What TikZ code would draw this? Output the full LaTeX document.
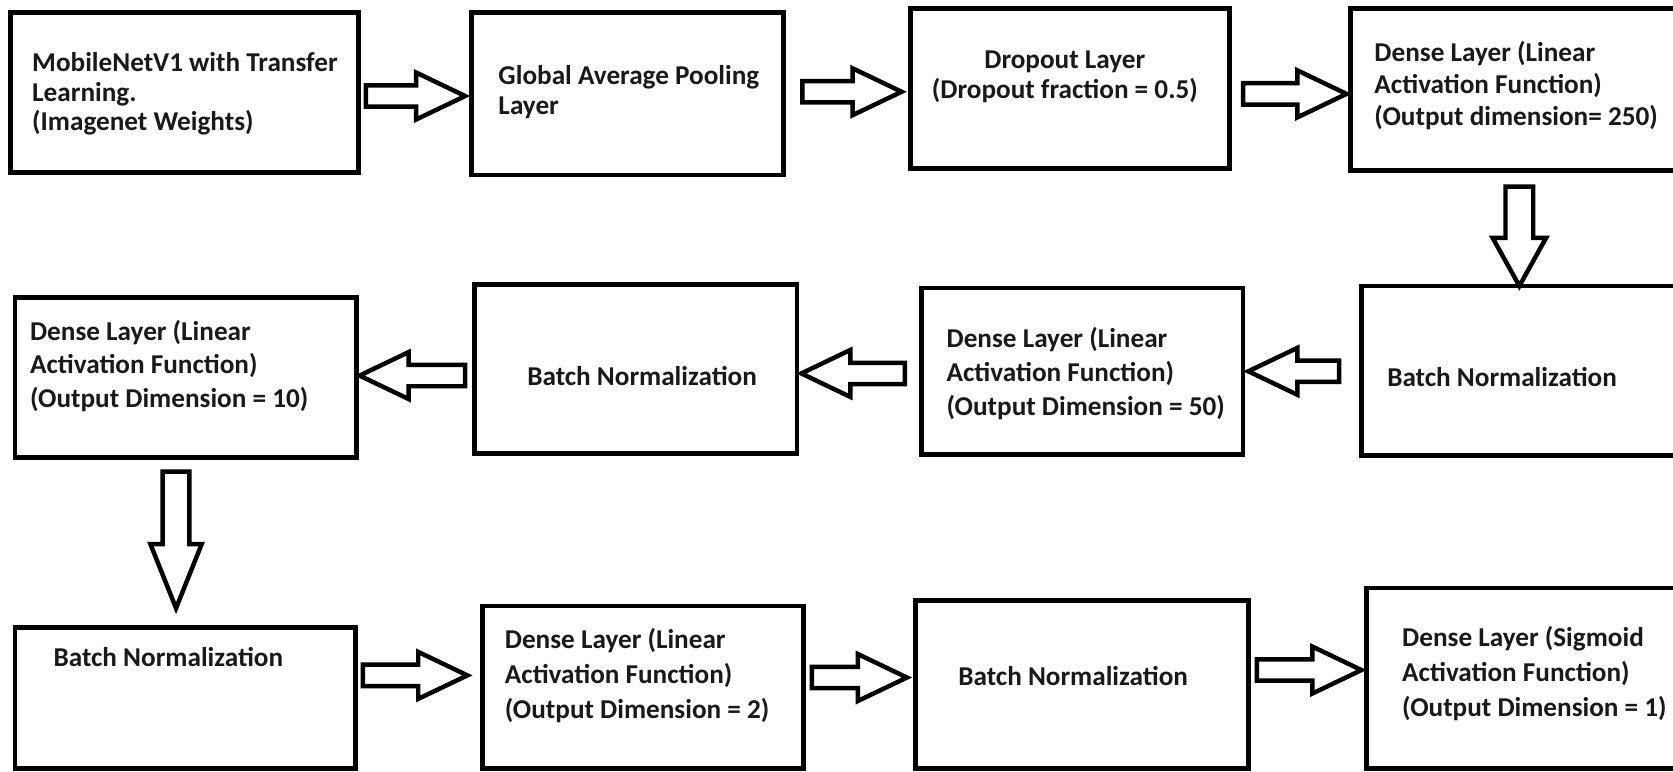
\documentclass[tikz,border=0pt]{standalone}
\usepackage{fontspec}
\setmainfont{Carlito}
\usetikzlibrary{calc}
\tikzset{
  box/.style={draw=black, line width=4.5pt, rectangle, inner sep=0pt},
  lbl/.style={inner sep=0pt, text=black!90, align=left, font=\bfseries\fontsize{25.5}{#1}\selectfont},
  lbl/.default=30,
  bsw/.code={\def\bsw{#1}}, bhw/.code={\def\bhw{#1}}, bhl/.code={\def\bhl{#1}},
  barr/.style={draw=black, line width=4.2pt, fill=white, line join=miter, bsw=10pt, bhw=22pt, bhl=46pt},
  rarr/.style={barr, to path={let \p1=(\tikztostart), \p2=(\tikztotarget) in
    (\x1,\y1+\bsw) -- (\x2-\bhl,\y1+\bsw) -- (\x2-\bhl,\y1+\bhw) -- (\x2,\y1)
    -- (\x2-\bhl,\y1-\bhw) -- (\x2-\bhl,\y1-\bsw) -- (\x1,\y1-\bsw) -- cycle}},
  larr/.style={barr, to path={let \p1=(\tikztostart), \p2=(\tikztotarget) in
    (\x1,\y1+\bsw) -- (\x2+\bhl,\y1+\bsw) -- (\x2+\bhl,\y1+\bhw) -- (\x2,\y1)
    -- (\x2+\bhl,\y1-\bhw) -- (\x2+\bhl,\y1-\bsw) -- (\x1,\y1-\bsw) -- cycle}},
  darr/.style={barr, to path={let \p1=(\tikztostart), \p2=(\tikztotarget) in
    (\x1-\bsw,\y1) -- (\x1-\bsw,\y2+\bhl) -- (\x1-\bhw,\y2+\bhl) -- (\x1,\y2)
    -- (\x1+\bhw,\y2+\bhl) -- (\x1+\bsw,\y2+\bhl) -- (\x1+\bsw,\y1) -- cycle}},
}
\begin{document}
\begin{tikzpicture}[x=1pt,y=-1pt]
\useasboundingbox[fill=white] (0,0) rectangle (1568,723);
% boxes (centre, size)
\node[box, minimum width=326pt, minimum height=150pt] (b1) at (173,87) {};
\node[box, minimum width=292pt, minimum height=152pt] (b2) at (588,88) {};
\node[box, minimum width=299pt, minimum height=150pt] (b3) at (1002.5,83) {};
\node[box, minimum width=315pt, minimum height=152pt] (b4) at (1423.5,84) {};
\node[box, minimum width=320pt, minimum height=150pt] (b5) at (174,354) {};
\node[box, minimum width=302pt, minimum height=158pt] (b6) at (596,346) {};
\node[box, minimum width=301pt, minimum height=156pt] (b7) at (1014.5,348) {};
\node[box, minimum width=304pt, minimum height=159pt] (b8) at (1428,347.5) {};
\node[box, minimum width=319pt, minimum height=132pt] (b9) at (173.5,654) {};
\node[box, minimum width=301pt, minimum height=152pt] (b10) at (602.5,644) {};
\node[box, minimum width=312pt, minimum height=157pt] (b11) at (1014,641.5) {};
\node[box, minimum width=299pt, minimum height=169pt] (b12) at (1430.5,635.5) {};
% labels
\node[lbl=27.5, anchor=west] (b1t) at (30,88) {MobileNetV1 with Transfer\\Learning.\\(Imagenet Weights)};
\node[lbl=28, anchor=west] (b2t) at (467,86) {Global Average Pooling\\Layer};
\node[lbl=29, align=center] (b3t) at (998,72) {Dropout Layer\\(Dropout fraction = 0.5)};
\node[lbl=30, anchor=west] (b4t) at (1288,80) {Dense Layer (Linear\\Activation Function)\\(Output dimension= 250)};
\node[lbl=31, anchor=west] (b5t) at (28,343) {Dense Layer (Linear\\Activation Function)\\(Output Dimension = 10)};
\node[lbl, anchor=west] (b6t) at (494,352) {Batch Normalization};
\node[lbl=32, anchor=west] (b7t) at (887,350) {Dense Layer (Linear\\Activation Function)\\(Output Dimension = 50)};
\node[lbl, anchor=west] (b8t) at (1300,353) {Batch Normalization};
\node[lbl, anchor=west] (b9t) at (50,616) {Batch Normalization};
\node[lbl=33, anchor=west] (b10t) at (473,633) {Dense Layer (Linear\\Activation Function)\\(Output Dimension = 2)};
\node[lbl, anchor=west] (b11t) at (898,634) {Batch Normalization};
\node[lbl=33, anchor=west] (b12t) at (1314,631) {Dense Layer (Sigmoid\\Activation Function)\\(Output Dimension = 1)};
% arrow ends
\coordinate (a1s) at (343,90);   \coordinate (a1e) at (436,90);
\coordinate (a2s) at (752,86);   \coordinate (a2e) at (845,86);
\coordinate (a3s) at (1165,88);  \coordinate (a3e) at (1262,88);
\coordinate (a4s) at (1424,175); \coordinate (a4e) at (1424,268);
\coordinate (a5s) at (1255,348); \coordinate (a5e) at (1170,348);
\coordinate (a6s) at (848,350);  \coordinate (a6e) at (751,350);
\coordinate (a7s) at (436,352);  \coordinate (a7e) at (337,352);
\coordinate (a8s) at (165,442);  \coordinate (a8e) at (165,570);
\coordinate (a9s) at (340,633);  \coordinate (a9e) at (438,633);
\coordinate (a10s) at (761,635); \coordinate (a10e) at (850,635);
\coordinate (a11s) at (1178,628);\coordinate (a11e) at (1276,628);
% arrows
\draw[rarr] (a1s) to (a1e);
\draw[rarr] (a2s) to (a2e);
\draw[rarr] (a3s) to (a3e);
\draw[darr, bsw=13pt, bhw=25pt, bhl=45pt] (a4s) to (a4e);
\draw[larr] (a5s) to (a5e);
\draw[larr] (a6s) to (a6e);
\draw[larr] (a7s) to (a7e);
\draw[darr, bsw=12.5pt, bhw=24pt, bhl=60pt] (a8s) to (a8e);
\draw[rarr] (a9s) to (a9e);
\draw[rarr] (a10s) to (a10e);
\draw[rarr] (a11s) to (a11e);
\end{tikzpicture}
\end{document}
